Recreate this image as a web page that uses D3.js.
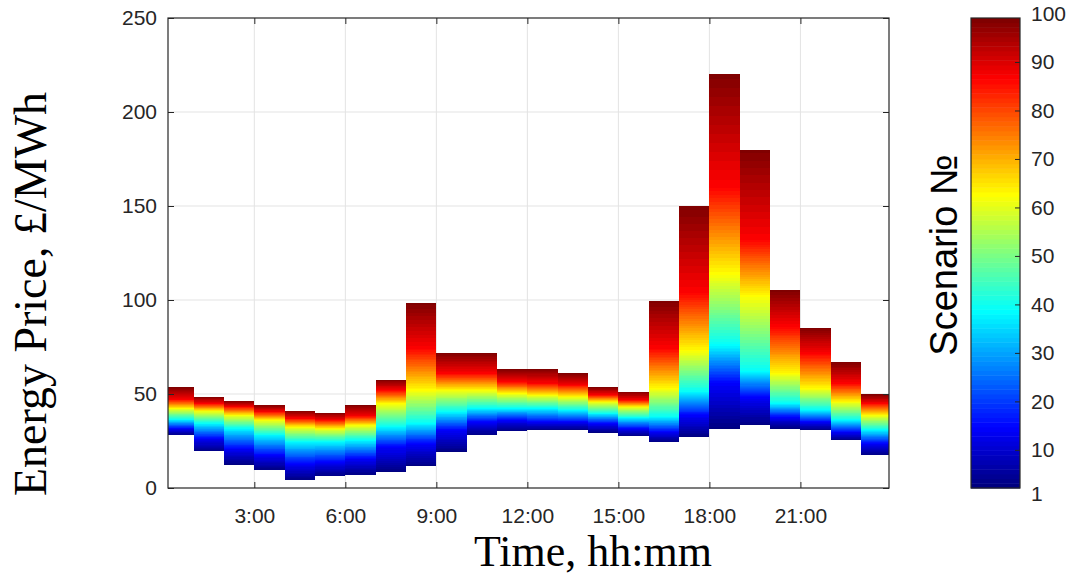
<!DOCTYPE html>
<html><head><meta charset="utf-8">
<script src="https://cdn.jsdelivr.net/npm/d3@7"></script>
<style>html,body{margin:0;padding:0;background:#fff;}svg{display:block;}</style>
</head><body>
<svg id="c" width="1076" height="577"></svg>
<script>
// ---- data (hour blocks, start hour) ----
const hours = d3.range(0, 24);
// price (GBP/MWh) at scenario levels 1, ~13, ~38, ~63, ~88, 100 for each hour
const p1   = [28.2,19.7,12.6, 9.6, 4.3, 6.4, 7.0, 8.7,11.7,19.3,28.2,30.5,30.9,30.9,29.6,27.8,24.6,27.3,31.7,33.5,31.7,30.9,25.5,17.6];
const p13  = [31.7,26.4,21.1,17.6,13.1,14.0,15.8,22.0,23.8,30.9,35.3,36.2,35.3,35.3,34.4,31.7,30.0,38.8,56.0,48.6,37.9,35.3,29.9,23.8];
const p38  = [36.5,34.4,31.7,28.2,24.6,24.6,25.5,32.6,34.4,40.6,42.4,42.4,42.4,41.5,39.7,37.4,37.9,51.2,76.0,62.0,45.0,41.5,36.2,30.9];
const p63  = [42.4,41.1,38.8,36.2,32.6,31.7,33.5,45.0,52.1,52.1,52.1,50.4,49.5,48.6,45.9,43.3,53.0,73.0,114.0,102.0,61.0,53.0,45.9,38.8];
const p88  = [47.2,45.0,43.3,40.6,37.1,36.2,38.3,52.1,74.3,61.0,61.0,56.6,55.7,54.8,49.5,46.8,74.3,104.0,160.0,132.0,85.8,71.6,55.7,45.0];
const p100 = [53.6,48.6,46.4,44.1,41.1,40.1,44.1,57.4,98.2,71.6,71.6,63.1,63.3,61.0,53.6,51.2,99.5,150.0,220.0,180.0,105.3,85.3,66.8,49.8];
const levels = [p1, p13, p38, p63, p88, p100];
const levelFrac = [0, 0.125, 0.375, 0.625, 0.875, 1];
const xTickVals = [3, 6, 9, 12, 15, 18, 21];
const xTickLabels = ["3:00","6:00","9:00","12:00","15:00","18:00","21:00"];
const yTickVals = [0, 50, 100, 150, 200, 250];
const cbTickVals = [1, 10, 20, 30, 40, 50, 60, 70, 80, 90, 100];
const nScen = 100;

// ---- jet colormap ----
function jet(t){
  const c = v => Math.max(0, Math.min(1, v));
  const r = c(1.5 - Math.abs(4*t - 3)), g = c(1.5 - Math.abs(4*t - 2)), b = c(1.5 - Math.abs(4*t - 1));
  return d3.rgb(r*255, g*255, b*255).formatHex();
}

const svg = d3.select("#c");
const L = 168, R = 889, T = 18, B = 488;
const x = d3.scaleLinear().domain([0.155, 23.92]).range([L, R]);
const y = d3.scaleLinear().domain([0, 250]).range([B, T]);
const ink = "#262626";
const sans = "'Liberation Sans', Arial, sans-serif";
const serif = "'Liberation Serif', 'Times New Roman', serif";

const defs = svg.append("defs");
defs.append("clipPath").attr("id","plotclip").append("rect")
  .attr("x", L).attr("y", T).attr("width", R-L).attr("height", B-T);

// grid
const grid = svg.append("g");
grid.selectAll(".gx").data(xTickVals).join("line")
  .attr("x1", d => x(d)).attr("x2", d => x(d)).attr("y1", T).attr("y2", B)
  .attr("stroke", "#e3e3e3").attr("stroke-width", 1);
grid.selectAll(".gy").data(yTickVals.slice(1, -1)).join("line")
  .attr("y1", d => y(d)).attr("y2", d => y(d)).attr("x1", L).attr("x2", R)
  .attr("stroke", "#e3e3e3").attr("stroke-width", 1);

// gradients: one per band segment, stepped in 100 colour cells like the colormap
for (let k = 0; k < levelFrac.length - 1; k++) {
  const g = defs.append("linearGradient").attr("id", "band" + k)
    .attr("x1", 0).attr("y1", 1).attr("x2", 0).attr("y2", 0);
  const S0 = 1 + levelFrac[k]*(nScen-1), S1 = 1 + levelFrac[k+1]*(nScen-1);
  for (let c = 1; c <= nScen; c++) {
    const a = Math.max(c - 0.5, S0), b = Math.min(c + 0.5, S1);
    if (b <= a) continue;
    const col = jet((c-1)/(nScen-1));
    g.append("stop").attr("offset", (a - S0)/(S1 - S0)).attr("stop-color", col);
    g.append("stop").attr("offset", (b - S0)/(S1 - S0)).attr("stop-color", col);
  }
}

const plot = svg.append("g").attr("clip-path", "url(#plotclip)");
hours.forEach((h, i) => {
  for (let k = 0; k < levels.length - 1; k++) {
    const lo = levels[k][i], hi = levels[k+1][i];
    plot.append("rect")
      .attr("x", x(h)).attr("width", x(h+1) - x(h))
      .attr("y", y(hi)).attr("height", Math.max(0.01, y(lo) - y(hi) + 0.4))
      .attr("fill", "url(#band" + k + ")")
      .attr("shape-rendering", "crispEdges");
  }
});

// axes
function styleAxis(g){
  g.select(".domain").remove();
  g.selectAll(".tick line").attr("stroke", ink);
  g.selectAll(".tick text").attr("fill", ink).style("font-family", sans).style("font-size", "21px");
}
const xAxis = d3.axisBottom(x).tickValues(xTickVals).tickFormat((d,i) => xTickLabels[i]).tickSize(-6).tickPadding(20);
svg.append("g").attr("transform", `translate(0,${B})`).call(xAxis).call(styleAxis);
svg.append("g").attr("transform", `translate(0,${T})`)
  .call(d3.axisTop(x).tickValues(xTickVals).tickFormat("").tickSize(-6)).call(styleAxis);
const yAxis = d3.axisLeft(y).tickValues(yTickVals).tickSize(-6).tickPadding(11);
svg.append("g").attr("transform", `translate(${L},0)`).call(yAxis).call(styleAxis);
svg.append("g").attr("transform", `translate(${R},0)`)
  .call(d3.axisRight(y).tickValues(yTickVals).tickFormat("").tickSize(-6)).call(styleAxis);
svg.append("rect").attr("x", L).attr("y", T).attr("width", R-L).attr("height", B-T)
  .attr("fill", "none").attr("stroke", ink).attr("stroke-width", 1.2);

// axis labels
svg.append("text").attr("x", 593).attr("y", 566).attr("text-anchor", "middle")
  .style("font-family", serif).style("font-size", "44px").attr("fill", "#000").text("Time, hh:mm");
svg.append("text").attr("transform", "translate(46,294) rotate(-90)").attr("text-anchor", "middle")
  .style("font-family", serif).style("font-size", "46px").attr("fill", "#000").text("Energy Price, £/MWh");

// colorbar
const CL = 971, CR = 1020;
const cy = d3.scaleLinear().domain([1, 100]).range([493.5, 13.5]);
const cb = svg.append("g");
const step = (B - T) / nScen;
cb.selectAll("rect").data(d3.range(nScen)).join("rect")
  .attr("x", CL).attr("width", CR - CL)
  .attr("y", d => B - (d+1)*step).attr("height", step + 0.5)
  .attr("fill", d => jet(d/(nScen-1)));
svg.append("rect").attr("x", CL).attr("y", T).attr("width", CR-CL).attr("height", B-T)
  .attr("fill", "none").attr("stroke", ink).attr("stroke-width", 1.2);
const cbAxis = svg.append("g").attr("transform", `translate(${CR},0)`)
  .call(d3.axisRight(cy).tickValues(cbTickVals).tickFormat(d3.format("d")).tickSize(-5).tickPadding(11))
  .call(styleAxis);
cbAxis.selectAll(".tick line").filter(d => d === 1 || d === 100).remove();
svg.append("text").attr("transform", "translate(957,255) rotate(-90)").attr("text-anchor", "middle")
  .style("font-family", sans).style("font-size", "38px").attr("fill", "#000").text("Scenario №");
</script>
</body></html>
